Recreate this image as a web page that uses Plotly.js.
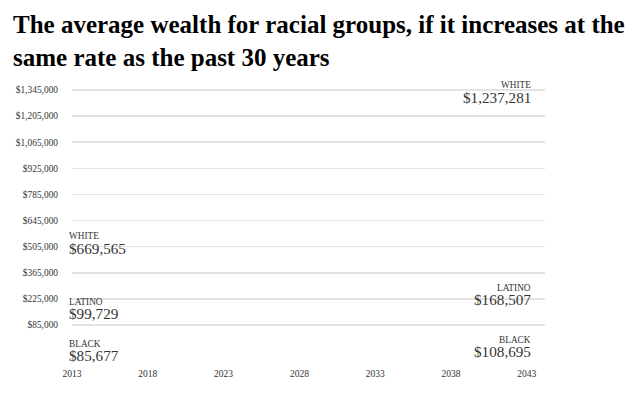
<!DOCTYPE html>
<html>
<head>
<meta charset="utf-8">
<script src="https://cdn.plot.ly/plotly-3.0.1.min.js"></script>
<style>html,body{margin:0;padding:0;background:#fff;}#chart{width:640px;height:394px;}</style>
</head>
<body>
<div id="chart"></div>
<script>
const years = [2013, 2043];
const groups = ["WHITE", "LATINO", "BLACK"];
const whiteWealth = [669565, 1237281];
const latinoWealth = [99729, 168507];
const blackWealth = [85677, 108695];
const yTicks = [85000, 225000, 365000, 505000, 645000, 785000, 925000, 1065000, 1205000, 1345000];
const xTicks = [2013, 2018, 2023, 2028, 2033, 2038, 2043];

const series = [whiteWealth, latinoWealth, blackWealth];
const fmt = v => "$" + v.toLocaleString("en-US");

const traces = series.map((vals, i) => ({
  x: years, y: vals, mode: "lines", name: groups[i],
  line: {color: "rgba(0,0,0,0)", width: 2}, hoverinfo: "skip", showlegend: false
}));

// label offsets (pixels) for [group name, value] at start and end
const shifts = [
  [[-20.5, -32.5], [25.5, 13]],
  [[20.5, 9], [21.5, 10]],
  [[-19.5, -31], [-19.5, -31]]
];
const annotations = [];
series.forEach((vals, i) => {
  [0, 1].forEach(j => {
    const common = {
      x: years[j], y: vals[j], xref: "x", yref: "y", showarrow: false,
      xanchor: j === 0 ? "left" : "right", align: j === 0 ? "left" : "right",
      xshift: j === 0 ? -4 : 5, yanchor: "middle", borderpad: 0
    };
    annotations.push(Object.assign({}, common, {
      text: groups[i], yshift: shifts[i][j][0],
      font: {family: "Liberation Serif", size: 9.3, color: "#333"}
    }));
    annotations.push(Object.assign({}, common, {
      text: fmt(vals[j]), yshift: shifts[i][j][1],
      font: {family: "Liberation Serif", size: 15.2, color: "#333"}
    }));
  });
});

const layout = {
  width: 640, height: 394,
  margin: {l: 72, r: 95, t: 84, b: 32},
  paper_bgcolor: "#fff", plot_bgcolor: "#fff",
  title: {
    text: "<b>The average wealth for racial groups, if it increases at the<br>same rate as the past 30 years</b>",
    x: 13/640, xanchor: "left", xref: "container",
    y: 1 - 33/394, yanchor: "top", yref: "container",
    font: {family: "Liberation Serif", size: 25, color: "#000"}
  },
  xaxis: {
    range: [2013, 2044.2], tickvals: xTicks, ticktext: xTicks.map(String),
    showgrid: false, zeroline: false, showline: false, ticks: "", ticklabelstandoff: 4,
    tickfont: {family: "Liberation Serif", size: 9.5, color: "#333"}
  },
  yaxis: {
    range: [-113383, 1377170], tickvals: yTicks, ticktext: yTicks.map(fmt),
    showgrid: true, gridcolor: "#e3e3e3", gridwidth: 1.5,
    zeroline: false, showline: false, ticks: "", ticklabelstandoff: 13,
    tickfont: {family: "Liberation Serif", size: 9.4, color: "#333"}
  },
  annotations: annotations,
  showlegend: false
};

Plotly.newPlot("chart", traces, layout, {staticPlot: true, displayModeBar: false});
</script>
</body>
</html>
